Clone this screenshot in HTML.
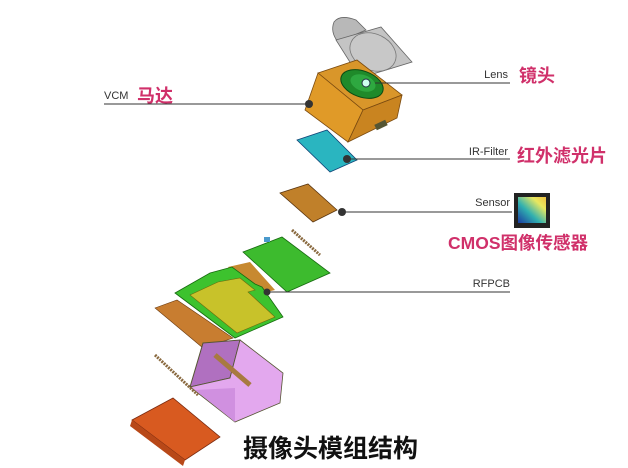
<!DOCTYPE html>
<html><head><meta charset="utf-8"><style>
html,body{margin:0;padding:0;background:#fff;width:628px;height:468px;overflow:hidden}
svg{display:block}
text{font-family:"Liberation Sans","Noto Sans CJK SC",sans-serif}
.cn{font-family:"Liberation Sans","Noto Sans CJK SC",sans-serif;font-weight:bold;fill:#d0306a}
</style></head><body>
<svg width="628" height="468" viewBox="0 0 628 468" xmlns="http://www.w3.org/2000/svg">
<defs><linearGradient id="chip" x1="0" y1="1" x2="1" y2="0"><stop offset="0" stop-color="#1a3aa0"/><stop offset="0.4" stop-color="#30b0b0"/><stop offset="0.75" stop-color="#e8e860"/><stop offset="1" stop-color="#f0c040"/></linearGradient></defs>
<path d="M334,22 Q340,14 356,20 L366,30 L338,42 Q330,32 334,22Z" fill="#b8b8b8" stroke="#666" stroke-width="0.8"/>
<polygon points="336,40 381,27 412,62 360,78" fill="#c4c4c4" stroke="#666" stroke-width="0.8"/>
<ellipse cx="373" cy="52" rx="24" ry="18" transform="rotate(25 373 52)" fill="#c8c8c8" stroke="#777" stroke-width="0.8"/>
<polygon points="318,73 357,60 402,95 363,110" fill="#d9962a" stroke="#7a4a10" stroke-width="0.8"/>
<polygon points="318,73 363,110 348,142 305,110" fill="#e09a28" stroke="#7a4a10" stroke-width="0.8"/>
<polygon points="363,110 402,95 397,118 348,142" fill="#c98420" stroke="#7a4a10" stroke-width="0.8"/>
<ellipse cx="362" cy="84" rx="22" ry="13" transform="rotate(20 362 84)" fill="#1f8a2a" stroke="#0c4a12"/>
<ellipse cx="363" cy="83" rx="13" ry="8" transform="rotate(20 363 83)" fill="#2ea840"/>
<circle cx="366" cy="83" r="4" fill="#cfe" stroke="#234"/>
<rect x="375" y="122" width="12" height="6" fill="#553" transform="rotate(-25 381 125)"/>
<polygon points="297,140 327,130 357,160 330,172" fill="#2ab5c0" stroke="#147" stroke-width="0.8"/>
<polygon points="280,193 308,184 337,210 313,222" fill="#c0802a" stroke="#5a3510" stroke-width="0.8"/>
<line x1="292" y1="230" x2="320" y2="255" stroke="#8a6a40" stroke-width="3" stroke-dasharray="2 1"/>
<polygon points="243,252 282,237 330,273 287,292" fill="#3dbb2e" stroke="#176a10" stroke-width="0.8"/>
<rect x="264" y="237" width="6" height="5" fill="#4a9acc"/>
<polygon points="228,267 250,262 275,290 255,295" fill="#c78930"/>
<polygon points="175,293 210,273 232,267 255,284 262,287 283,317 235,338" fill="#3dc22e" stroke="#176a10" stroke-width="0.8"/>
<polygon points="190,295 218,282 240,278 255,290 248,292 275,317 237,333" fill="#c8c22a" stroke="#6a6a10" stroke-width="0.6"/>
<polygon points="155,308 177,300 233,338 203,348" fill="#c87d30" stroke="#6a3a10" stroke-width="0.6"/>
<circle cx="267" cy="292" r="3.5" fill="#333"/>
<polygon points="203,343 240,340 230,378 190,387" fill="#b070c0" stroke="#553"/>
<polygon points="240,340 283,373 280,403 235,422 190,387 230,378" fill="#e3a8ee" stroke="#553" stroke-width="0.8"/>
<polygon points="195,390 235,388 235,422" fill="#d090e0"/>
<line x1="215" y1="355" x2="250" y2="385" stroke="#a87a40" stroke-width="5"/>
<line x1="155" y1="355" x2="198" y2="395" stroke="#8a6a40" stroke-width="3" stroke-dasharray="2 1"/>
<polygon points="132,420 173,398 220,437 185,460" fill="#d85a20" stroke="#7a2a10" stroke-width="0.8"/>
<polygon points="132,420 185,460 183,466 130,426" fill="#b84818"/>
<g stroke="#333" stroke-width="1">
<line x1="104" y1="104" x2="310" y2="104"/>
<line x1="375" y1="83" x2="510" y2="83"/>
<line x1="347" y1="159" x2="510" y2="159"/>
<line x1="342" y1="212" x2="512" y2="212"/>
<line x1="268" y1="292" x2="510" y2="292"/>
</g>
<g fill="#333"><circle cx="309" cy="104" r="4"/><circle cx="347" cy="159" r="4"/><circle cx="342" cy="212" r="4"/></g>
<text x="104" y="99" font-size="11" fill="#333">VCM</text>
<text x="137" y="102" font-size="18" class="cn">马达</text>
<text x="508" y="78" font-size="11" fill="#333" text-anchor="end">Lens</text>
<text x="519" y="82" font-size="18" class="cn">镜头</text>
<text x="508" y="155" font-size="11" fill="#333" text-anchor="end">IR-Filter</text>
<text x="517" y="162" font-size="18" class="cn">红外滤光片</text>
<text x="510" y="206" font-size="11" fill="#333" text-anchor="end">Sensor</text>
<rect x="514" y="193" width="36" height="35" fill="#222"/>
<rect x="518" y="197" width="28" height="26" fill="url(#chip)"/>
<text x="448" y="249" font-size="17.5" class="cn">CMOS图像传感器</text>
<text x="510" y="287" font-size="11" fill="#333" text-anchor="end">RFPCB</text>
<text x="243" y="457" font-size="25" font-weight="bold" fill="#111">摄像头模组结构</text>
</svg>
</body></html>
